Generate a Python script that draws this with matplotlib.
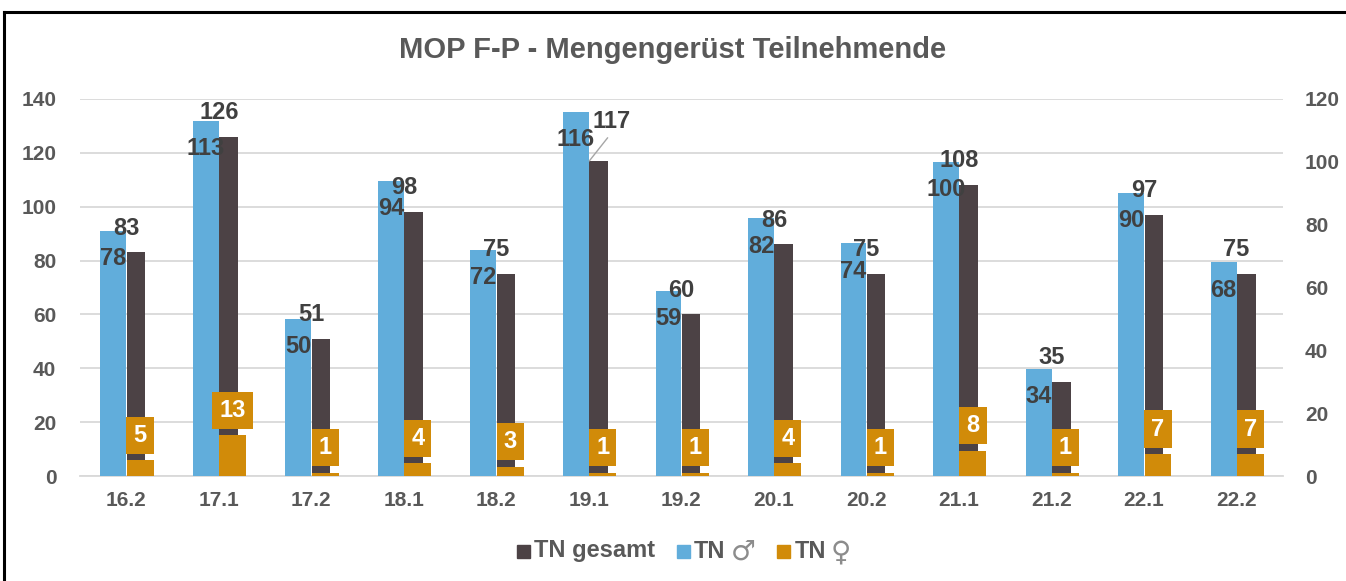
import matplotlib
matplotlib.use("Agg")
import matplotlib.pyplot as plt
from matplotlib.lines import Line2D
from matplotlib.patches import Rectangle
import numpy as np

plt.rcParams['font.family'] = ['Liberation Sans', 'DejaVu Sans']

# data
kurse = ["16.2", "17.1", "17.2", "18.1", "18.2", "19.1", "19.2",
         "20.1", "20.2", "21.1", "21.2", "22.1", "22.2"]
tn_gesamt = [83, 126, 51, 98, 75, 117, 60, 86, 75, 108, 35, 97, 75]
tn_maennlich = [78, 113, 50, 94, 72, 116, 59, 82, 74, 100, 34, 90, 68]
tn_weiblich = [5, 13, 1, 4, 3, 1, 1, 4, 1, 8, 1, 7, 7]
legend_labels = ["TN gesamt", "TN", "TN"]
legend_symbols = ["", "♂", "♀"]

c_gesamt = "#4c4245"
c_m = "#61addb"
c_w = "#d18b09"
c_text = "#404040"
c_axis = "#595959"

W, H = 1346, 581
fig = plt.figure(figsize=(W / 100, H / 100), dpi=100)
ax = fig.add_axes([0.0594, 0.1807, 0.8937, 0.649])
ax2 = ax.twinx()

x = np.arange(len(kurse))

# primary axis: TN gesamt
ax.bar(x + 0.005, tn_gesamt, width=0.2, align='edge', color=c_gesamt, zorder=2)
# secondary axis: TN m / TN w
ax2.bar(x, tn_maennlich, width=-0.28, align='edge', color=c_m, zorder=2)
ax2.bar(x + 0.005, tn_weiblich, width=0.29, align='edge', color=c_w, zorder=3)

ax.set_xlim(-0.5, len(kurse) - 0.5)
ax.set_ylim(0, 140)
ax2.set_ylim(0, 120)
ax.set_yticks(np.arange(0, 141, 20))
ax2.set_yticks(np.arange(0, 121, 20))
ax.set_xticks(x)
ax.set_xticklabels(kurse)

ax.grid(axis='y', color='#d9d9d9', linewidth=1.3, zorder=0)
ax.set_axisbelow(True)
for a in (ax, ax2):
    for s in a.spines.values():
        s.set_visible(False)
    a.tick_params(length=0, labelsize=15, labelcolor=c_axis)
    for lab in a.get_yticklabels() + a.get_xticklabels():
        lab.set_fontweight('bold')
ax.spines['bottom'].set_visible(True)
ax.spines['bottom'].set_color('#d9d9d9')
ax.spines['bottom'].set_linewidth(1.3)
ax.tick_params(axis='y', pad=17)
ax.tick_params(axis='x', pad=11)
ax2.tick_params(axis='y', pad=16)

# labels
fs = 17
for i in range(len(kurse)):
    ax2.annotate(str(tn_maennlich[i]), (x[i] - 0.14, tn_maennlich[i]),
                 xytext=(0, -20), textcoords='offset points',
                 ha='center', va='center', fontsize=fs, fontweight='bold',
                 color=c_text, zorder=6)
    if kurse[i] == "19.1":
        ax2.annotate(str(tn_gesamt[i]), (x[i] + 0.005, tn_gesamt[i] * 120 / 140),
                     xytext=(16, 28.5), textcoords='offset points',
                     ha='center', va='center', fontsize=fs, fontweight='bold',
                     color=c_text, zorder=6,
                     arrowprops=dict(arrowstyle='-', color='#a6a6a6', lw=1,
                                     shrinkA=2, shrinkB=0, relpos=(0.5, 0)))
    else:
        ax2.annotate(str(tn_gesamt[i]), (x[i], tn_gesamt[i] * 120 / 140),
                     xytext=(0, 17.5), textcoords='offset points',
                     ha='center', va='center', fontsize=fs, fontweight='bold',
                     color=c_text, zorder=6)
    ax2.annotate(str(tn_weiblich[i]), (x[i] + 0.15, tn_weiblich[i]),
                 xytext=(0, 18), textcoords='offset points',
                 ha='center', va='center', fontsize=fs, fontweight='bold',
                 color='white', zorder=7,
                 bbox=dict(boxstyle='square,pad=0.3', fc=c_w, ec='none'))

fig.suptitle("MOP F-P - Mengengerüst Teilnehmende", x=0.5, y=1 - 50 / H,
             va='center', fontsize=21, fontweight='bold', color=c_axis)

# legend, laid out by hand so the gender signs can use a thin font
fig.canvas.draw()
r = fig.canvas.get_renderer()


def text_width(s, **kw):
    if not s:
        return 0
    t = fig.text(0, 0, s, **kw)
    w = t.get_window_extent(r).width
    t.remove()
    return w


lab_kw = dict(fontsize=17, fontweight='bold', color=c_axis)
sym_kw = dict(family='DejaVu Sans', fontsize=20, fontweight='normal', color='#8c8c8c')
sq, gap_sq, gap_sym, gap_item = 13, 4, 5, 22
widths = []
for lab, sym in zip(legend_labels, legend_symbols):
    w = sq + gap_sq + text_width(lab, **lab_kw)
    if sym:
        w += gap_sym + text_width(sym, **sym_kw)
    widths.append(w)
total = sum(widths) + gap_item * (len(widths) - 1)
xpos = 684 - total / 2
yc = 551
colors = [c_gesamt, c_m, c_w]
for lab, sym, col, w in zip(legend_labels, legend_symbols, colors, widths):
    fig.add_artist(Rectangle((xpos / W, 1 - (yc + sq / 2) / H), sq / W, sq / H,
                             transform=fig.transFigure, color=col))
    tx = xpos + sq + gap_sq
    fig.text(tx / W, 1 - 557.5 / H, lab, ha='left', va='baseline', **lab_kw)
    if sym:
        sx = tx + text_width(lab, **lab_kw) + gap_sym
        fig.text(sx / W, 1 - 552 / H, sym, ha='left', va='center', **sym_kw)
    xpos += w + gap_item

# chart border (left + top visible)
fig.add_artist(Line2D([4 / W, 4 / W], [0, 1 - 12 / H], color='black', lw=2.2))
fig.add_artist(Line2D([4 / W, 1], [1 - 12 / H, 1 - 12 / H], color='black', lw=2.2))

fig.savefig("out.png", dpi=100)
